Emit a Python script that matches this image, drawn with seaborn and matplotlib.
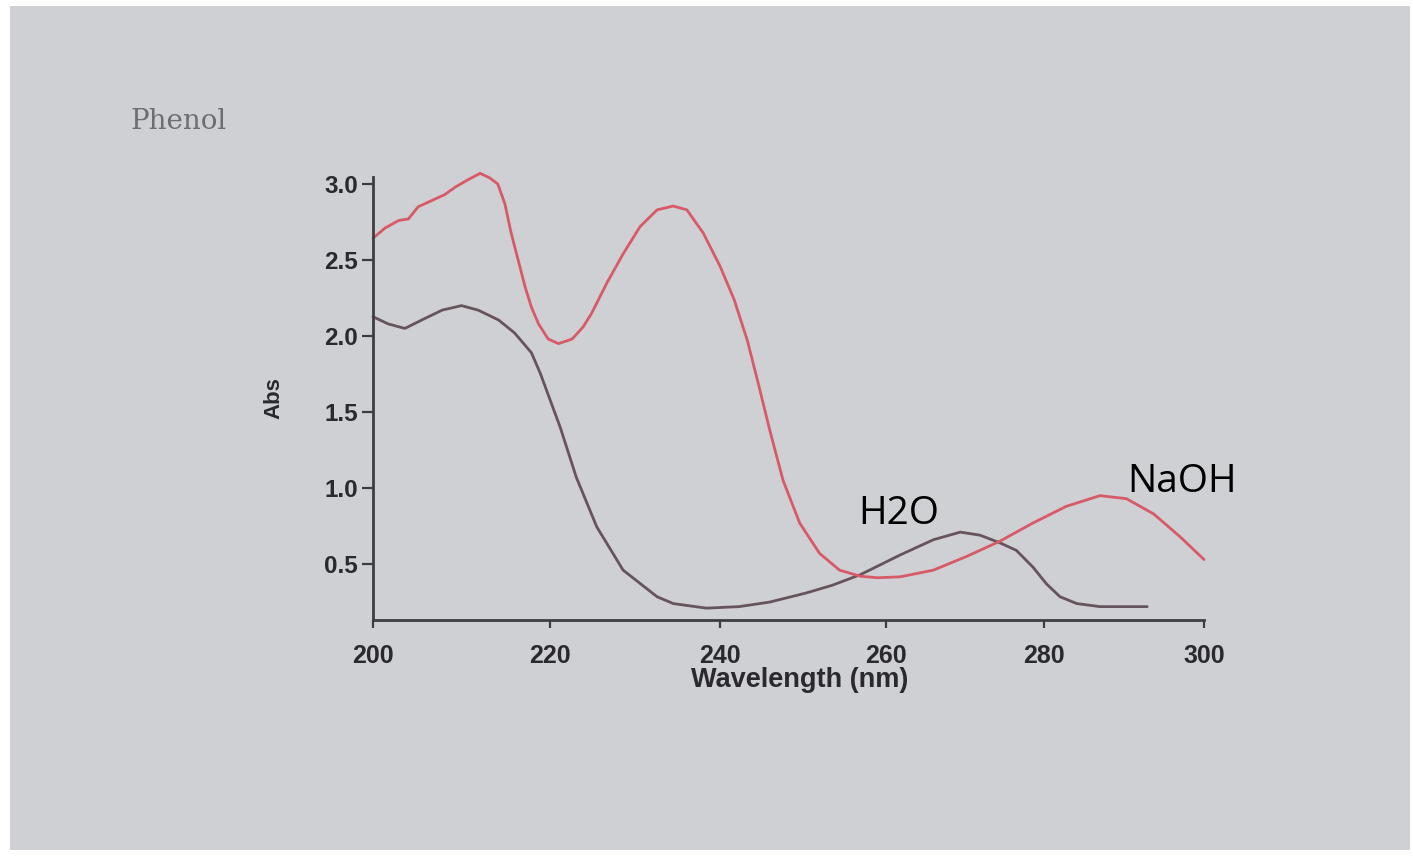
import numpy as np
import pandas as pd
import matplotlib
matplotlib.use("Agg")
import matplotlib.pyplot as plt
import seaborn as sns
from matplotlib.patches import Rectangle

# ---------------- data ----------------
wl_naoh = [200, 201.35, 202.9, 204.0, 205.1, 206.6, 208.1, 209.3, 210.8, 212.1, 213.2,
           214.1, 214.9, 215.6, 216.4, 217.2, 217.9, 218.7, 219.8, 221.0, 222.6,
           223.9, 224.9, 226.7, 228.6, 230.6, 232.6, 234.5, 236.1, 238.0, 240.0,
           241.7, 243.3, 244.6, 246.0, 247.6, 249.6, 252.0, 254.4, 256.9, 259.0,
           261.8, 266.0, 270.2, 274.4, 278.6, 282.8, 287.0, 290.3, 293.7, 297.0, 300]
abs_naoh = [2.643, 2.71, 2.76, 2.77, 2.85, 2.89, 2.93, 2.98, 3.03, 3.07, 3.04,
            3.00, 2.87, 2.68, 2.50, 2.32, 2.19, 2.08, 1.98, 1.95, 1.98,
            2.06, 2.15, 2.35, 2.54, 2.72, 2.83, 2.855, 2.83, 2.68, 2.46,
            2.24, 1.97, 1.69, 1.38, 1.05, 0.77, 0.57, 0.46, 0.42, 0.41,
            0.416, 0.46, 0.55, 0.65, 0.77, 0.88, 0.95, 0.93, 0.83, 0.68, 0.53]

wl_h2o = [200, 201.7, 203.6, 205.5, 207.8, 210.0, 211.9, 214.2, 216.0, 217.9, 218.9,
          221.2, 223.1, 225.5, 228.6, 232.6, 234.5, 238.4, 242.3, 246.0, 250.4,
          253.5, 256.9, 259.5, 261.8, 266.0, 269.4, 271.9, 274.4, 276.5, 278.6,
          280.3, 282.0, 284.1, 287.0, 292.9]
abs_h2o = [2.127, 2.08, 2.05, 2.105, 2.17, 2.20, 2.17, 2.105, 2.02, 1.89, 1.755,
           1.40, 1.07, 0.745, 0.46, 0.285, 0.24, 0.21, 0.22, 0.25, 0.31,
           0.36, 0.43, 0.50, 0.56, 0.66, 0.71, 0.69, 0.64, 0.59, 0.48,
           0.37, 0.285, 0.24, 0.22, 0.22]

x_ticks = [200, 220, 240, 260, 280, 300]
y_ticks = [0.5, 1.0, 1.5, 2.0, 2.5, 3.0]
y_ticklabels = ["0.5", "1.0", "1.5", "2.0", "2.5", "3.0"]

df = pd.concat([
    pd.DataFrame({"wl": wl_h2o, "abs": abs_h2o, "solvent": "H2O"}),
    pd.DataFrame({"wl": wl_naoh, "abs": abs_naoh, "solvent": "NaOH"}),
], ignore_index=True)

# ---------------- layout / style ----------------
W, H = 1413, 856
sns.set_theme(style="ticks")
plt.rcParams["font.family"] = ["Liberation Sans", "DejaVu Sans"]

fig = plt.figure(figsize=(W / 100, H / 100), dpi=100)
fig.patch.set_facecolor("white")
fig.patches.append(Rectangle((10 / W, 6 / H), 1400 / W, 844 / H,
                             transform=fig.transFigure, facecolor="#cfd0d4",
                             edgecolor="none", zorder=-10))

X0, X1, Y0, Y1 = 373, 1204, 620, 177
ax = fig.add_axes([X0 / W, 1 - Y0 / H, (X1 - X0) / W, (Y0 - Y1) / H])
ax.set_facecolor("none")

# the photographed axis is slightly non-uniform (perspective)
tick_px = [373, 550, 720, 886, 1044, 1204]
ax.set_xscale("function",
              functions=(lambda v: np.interp(v, x_ticks, tick_px),
                         lambda p: np.interp(p, tick_px, x_ticks)))

red = "#d85a66"
dark = "#66545c"
sns.lineplot(data=df, x="wl", y="abs", hue="solvent",
             palette={"H2O": dark, "NaOH": red}, estimator=None, sort=False,
             linewidth=2.0, legend=False, ax=ax)
for ln in ax.get_lines():
    ln.set_clip_on(False)
    ln.set_solid_joinstyle("round")

ax.set_xlim(200, 300)
ax.set_ylim(0.132, 3.046)
ax.set_xticks(x_ticks)
ax.set_xticklabels([str(t) for t in x_ticks])
ax.set_yticks(y_ticks)
ax.set_yticklabels(y_ticklabels)
ax.minorticks_off()

for s in ["top", "right"]:
    ax.spines[s].set_visible(False)
for s in ["left", "bottom"]:
    ax.spines[s].set_linewidth(2.0)
    ax.spines[s].set_color("#3d3d42")

ax.tick_params(axis="both", direction="out", width=1.6,
               color="#3d3d42", labelcolor="#2a2a2e")
ax.tick_params(axis="y", length=8, pad=3, labelsize=17.5)
ax.tick_params(axis="x", length=6, pad=11, labelsize=18)
for lab in ax.get_xticklabels() + ax.get_yticklabels():
    lab.set_fontweight("bold")

ax.set_xlabel("Wavelength (nm)", fontsize=19.5, fontweight="bold", color="#2a2a2e")
ax.set_ylabel("Abs", fontsize=16, fontweight="bold", color="#2a2a2e")
ax.xaxis.set_label_coords((800 - X0) / (X1 - X0), (Y0 - 667) / (Y0 - Y1))
ax.yaxis.set_label_coords((284 - X0) / (X1 - X0), (Y0 - 398) / (Y0 - Y1))

fig.text(130 / W, 1 - 129 / H, "Phenol", family="DejaVu Serif", fontsize=20,
         color="#6e6e72", ha="left", va="baseline")
fig.text(858 / W, 1 - 524 / H, "H2O", family="Open Sans", fontsize=28,
         color="black", ha="left", va="baseline")
fig.text(1127 / W, 1 - 492 / H, "NaOH", family="Open Sans", fontsize=28,
         color="black", ha="left", va="baseline")

fig.savefig("out.png", dpi=100)
